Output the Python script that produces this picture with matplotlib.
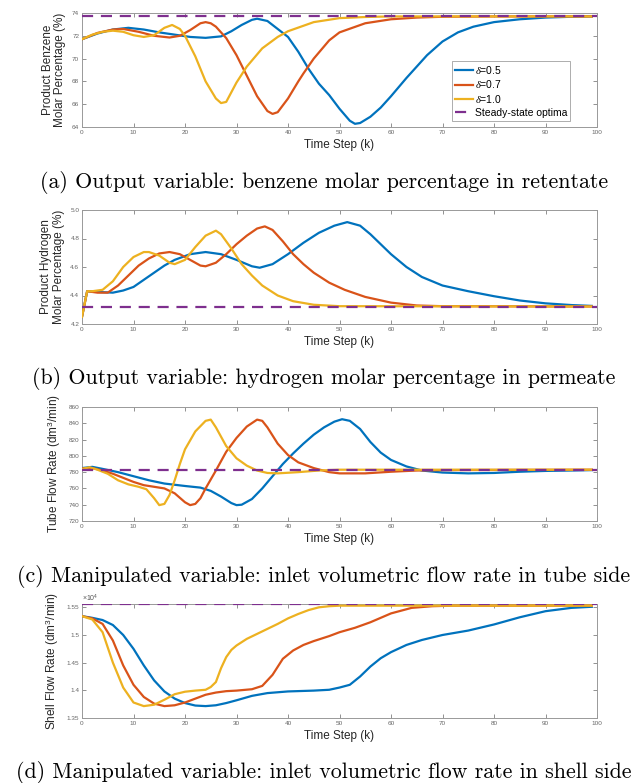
import matplotlib
matplotlib.use("Agg")
import matplotlib.pyplot as plt
from matplotlib.ticker import FuncFormatter, MultipleLocator

# ---------------- data ----------------
steps_xlim = [0, 100]

# (a) benzene molar percentage in retentate
a_k_blue = [0, 3, 6, 9, 12, 15, 18, 21, 24, 27, 29, 31, 33, 34, 36, 38, 40, 42, 44, 46, 48, 50, 52, 53, 54, 56, 58, 60, 63, 65, 67, 70, 73, 76, 80, 85, 90, 95, 99]
a_blue = [71.7, 72.2, 72.55, 72.7, 72.55, 72.3, 72.1, 71.9, 71.82, 71.95, 72.4, 72.95, 73.4, 73.5, 73.3, 72.6, 71.9, 70.6, 69.1, 67.8, 66.8, 65.6, 64.55, 64.28, 64.35, 64.9, 65.7, 66.7, 68.3, 69.3, 70.3, 71.5, 72.3, 72.8, 73.2, 73.45, 73.6, 73.67, 73.7]
a_k_orange = [0, 3, 6, 8, 11, 14, 17, 19, 21, 23, 24, 25, 26, 28, 30, 32, 34, 36, 37, 38, 40, 42, 43, 45, 48, 50, 55, 60, 65, 70, 80, 99]
a_orange = [71.7, 72.25, 72.55, 72.6, 72.35, 72.0, 71.85, 72.0, 72.5, 73.1, 73.2, 73.1, 72.8, 71.8, 70.3, 68.5, 66.7, 65.4, 65.15, 65.3, 66.5, 68.0, 68.7, 70.0, 71.6, 72.3, 73.1, 73.45, 73.6, 73.67, 73.7, 73.7]
a_k_yellow = [0, 2, 4, 6, 8, 10, 12, 14, 16, 17.5, 19, 20, 22, 24, 26, 27, 28, 30, 32, 35, 38, 40, 45, 50, 55, 60, 99]
a_yellow = [71.7, 72.1, 72.35, 72.45, 72.35, 72.05, 71.9, 72.05, 72.7, 72.95, 72.6, 72.0, 70.2, 68.0, 66.5, 66.1, 66.2, 67.9, 69.3, 70.9, 71.9, 72.4, 73.2, 73.55, 73.65, 73.7, 73.7]
a_steady = 73.74

# (b) hydrogen molar percentage in permeate
b_k_blue = [0, 1, 3, 6, 8, 10, 12, 14, 16, 18, 21, 24, 27, 30, 33, 34.5, 37, 40, 43, 46, 49, 51.5, 54, 56, 58, 60, 63, 66, 70, 75, 80, 85, 90, 95, 99]
b_blue = [4.25, 4.43, 4.425, 4.42, 4.435, 4.46, 4.51, 4.56, 4.61, 4.65, 4.69, 4.705, 4.69, 4.65, 4.605, 4.595, 4.62, 4.69, 4.77, 4.84, 4.89, 4.915, 4.89, 4.83, 4.76, 4.69, 4.6, 4.53, 4.47, 4.43, 4.395, 4.365, 4.345, 4.333, 4.327]
b_k_orange = [0, 1, 3, 5, 7, 9, 11, 13, 15, 17, 19, 21, 23, 24, 26, 28, 30, 32, 34, 35.5, 37, 39, 41, 43, 45, 48, 51, 55, 60, 65, 70, 99]
b_orange = [4.25, 4.43, 4.42, 4.42, 4.47, 4.54, 4.61, 4.66, 4.695, 4.705, 4.69, 4.65, 4.61, 4.605, 4.63, 4.69, 4.76, 4.82, 4.87, 4.885, 4.86, 4.78, 4.69, 4.62, 4.56, 4.49, 4.44, 4.39, 4.35, 4.33, 4.325, 4.323]
b_k_yellow = [0, 1, 2, 4, 6, 8, 10, 12, 13, 15, 17, 18, 20, 22, 24, 26, 27, 29, 31, 33, 35, 38, 41, 45, 50, 99]
b_yellow = [4.25, 4.43, 4.43, 4.44, 4.5, 4.6, 4.67, 4.705, 4.705, 4.68, 4.63, 4.62, 4.65, 4.74, 4.82, 4.855, 4.83, 4.73, 4.62, 4.54, 4.47, 4.4, 4.36, 4.335, 4.325, 4.323]
b_steady = 4.318

# (c) inlet volumetric flow rate in tube side
c_k_blue = [0, 2, 4, 7, 10, 13, 16, 20, 23, 25, 27, 29, 30, 31, 33, 35, 37, 39, 41, 43, 45, 47, 49, 50.5, 52, 54, 56, 58, 60, 63, 66, 70, 75, 80, 85, 90, 95, 99]
c_blue = [785, 786.5, 784, 780, 775, 770, 766, 763, 761, 757, 750, 742, 739.5, 740, 747, 760, 775, 790, 803, 815, 826, 835, 842, 845, 843, 833, 817, 804, 795, 787, 782, 779.5, 778.5, 779, 780.5, 781.5, 782, 782.5]
c_k_orange = [0, 2, 4, 6, 8, 10, 12, 14, 16, 18, 20, 21, 22, 23, 24, 26, 28, 30, 32, 34, 35, 36, 38, 40, 42, 45, 48, 50, 55, 60, 65, 70, 99]
c_orange = [784.5, 785, 782, 778, 773, 768, 764, 762, 760, 754, 743, 739.5, 741, 748, 760, 782, 805, 822, 836, 844.5, 843, 835, 815, 801, 792, 785, 780, 778.5, 778.5, 780.5, 782, 782.5, 783]
c_k_yellow = [0, 1.5, 3, 5, 7, 9, 11, 12.5, 14, 15, 16, 17, 18, 19, 20, 22, 24, 25, 26, 28, 30, 32, 34, 36, 38, 42, 46, 50, 99]
c_yellow = [784, 786, 783, 778, 770, 765, 762, 759, 748, 739.5, 741, 752, 770, 790, 808, 830, 843, 844.5, 835, 812, 797, 788, 782, 779, 778.5, 780, 782, 783, 783]
c_steady = 783

# (d) inlet volumetric flow rate in shell side
d_k_blue = [0, 2, 4, 6, 8, 10, 12, 14, 16, 18, 20, 22, 24, 26, 28, 30, 33, 36, 40, 45, 48, 50, 52, 54, 56, 58, 60, 63, 66, 70, 75, 80, 85, 90, 95, 99]
d_blue = [15340, 15310, 15270, 15180, 15000, 14750, 14450, 14180, 13980, 13850, 13770, 13725, 13715, 13730, 13770, 13820, 13900, 13950, 13980, 13995, 14010, 14050, 14100, 14250, 14430, 14580, 14690, 14820, 14910, 15000, 15080, 15190, 15320, 15430, 15490, 15510]
d_k_orange = [0, 2, 4, 6, 8, 10, 12, 14, 16, 18, 20, 22, 24, 26, 28, 30, 33, 35, 37, 39, 41, 43, 45, 48, 50, 53, 56, 60, 64, 68, 72, 99]
d_orange = [15340, 15300, 15200, 14900, 14450, 14100, 13880, 13760, 13715, 13730, 13780, 13850, 13920, 13960, 13985, 13995, 14020, 14080, 14280, 14570, 14720, 14820, 14890, 14980, 15050, 15130, 15230, 15390, 15490, 15520, 15530, 15530]
d_k_yellow = [0, 2, 4, 6, 8, 10, 12, 14, 16, 18, 20, 22, 24, 25, 26, 27, 28, 29, 30, 32, 34, 36, 38, 40, 42, 44, 46, 48, 50, 55, 99]
d_yellow = [15340, 15280, 15050, 14500, 14050, 13780, 13715, 13740, 13830, 13930, 13975, 13995, 14010, 14060, 14150, 14400, 14600, 14730, 14810, 14930, 15020, 15110, 15200, 15300, 15380, 15450, 15500, 15520, 15530, 15530, 15530]
d_steady = 15553

legend_labels = [r"$\delta$=0.5", r"$\delta$=0.7", r"$\delta$=1.0", "Steady-state optima"]
captions = [
    "(a) Output variable: benzene molar percentage in retentate",
    "(b) Output variable: hydrogen molar percentage in permeate",
    "(c) Manipulated variable: inlet volumetric flow rate in tube side",
    "(d) Manipulated variable: inlet volumetric flow rate in shell side",
]
ylabels = [
    "Product Benzene\nMolar Percentage (%)",
    "Product Hydrogen\nMolar Percentage (%)",
    r"Tube Flow Rate (dm$^3$/min)",
    r"Shell Flow Rate (dm$^3$/min)",
]
ylims = [(64, 74), (4.2, 5.0), (720, 860), (13500, 15560)]
ysteps = [2, 0.2, 20, 500]

# ---------------- style ----------------
plt.rcParams['font.family'] = ['Liberation Sans', 'DejaVu Sans']
plt.rcParams['mathtext.fontset'] = 'custom'
plt.rcParams['mathtext.rm'] = 'Liberation Sans'
plt.rcParams['mathtext.it'] = 'Liberation Serif:italic'

BLUE, ORANGE, YELLOW, PURPLE = '#0072BD', '#D95319', '#EDB120', '#7E2F8E'
W, H = 643, 783
fig = plt.figure(figsize=(W / 100, H / 100), dpi=100)

series = [
    (a_k_blue, a_blue, a_k_orange, a_orange, a_k_yellow, a_yellow, a_steady),
    (b_k_blue, b_blue, b_k_orange, b_orange, b_k_yellow, b_yellow, b_steady),
    (c_k_blue, c_blue, c_k_orange, c_orange, c_k_yellow, c_yellow, c_steady),
    (d_k_blue, d_blue, d_k_orange, d_orange, d_k_yellow, d_yellow, d_steady),
]

left_px, right_px = 82, 597
for i, (kb, vb, ko, vo, ky, vy, ss) in enumerate(series):
    top_px = 13 + 197 * i
    bot_px = 127 + 197 * i
    ax = fig.add_axes([left_px / W, 1 - bot_px / H, (right_px - left_px) / W, (bot_px - top_px) / H])
    lb, = ax.plot(kb, vb, color=BLUE, lw=1.6, zorder=3)
    lo, = ax.plot(ko, vo, color=ORANGE, lw=1.6, zorder=3)
    ly, = ax.plot(ky, vy, color=YELLOW, lw=1.6, zorder=3)
    ls, = ax.plot(steps_xlim, [ss, ss], color=PURPLE, lw=1.6, ls=(0, (5, 3.5)), zorder=4)
    ax.set_xlim(*steps_xlim)
    ax.set_ylim(*ylims[i])
    ax.xaxis.set_major_locator(MultipleLocator(10))
    ax.yaxis.set_major_locator(MultipleLocator(ysteps[i]))
    if i == 3:
        ax.yaxis.set_major_formatter(FuncFormatter(lambda v, p: f"{v / 1e4:g}"))
        ax.text(0.0, 1.01, r"$\times10^4$", transform=ax.transAxes, fontsize=5, color='#555555', va='bottom', ha='left')
    ax.tick_params(direction='in', length=3, width=0.5, labelsize=4.6, colors='#666666',
                   top=True, right=True, pad=2)
    for sp in ax.spines.values():
        sp.set_color('#999999')
        sp.set_linewidth(0.7)
    ax.set_xlabel("Time Step (k)", fontsize=8.5, color='#262626', labelpad=3)
    ax.set_ylabel(ylabels[i], fontsize=8.5, color='#262626', labelpad=4, linespacing=1.1)
    if i == 0:
        leg = ax.legend([lb, lo, ly, ls], legend_labels, loc='lower right',
                        bbox_to_anchor=(0.958, 0.01), fontsize=7.5, handlelength=1.7,
                        handletextpad=0.2, borderpad=0.3, labelspacing=0.25,
                        frameon=True, fancybox=False, edgecolor='#888888')
        leg.get_frame().set_linewidth(0.6)
    fig.text(324 / W, 1 - (182 + 197 * i) / H, captions[i], family='cmr10', fontsize=15.8,
             ha='center', va='center', color='black')

fig.savefig("out.png", dpi=100)
